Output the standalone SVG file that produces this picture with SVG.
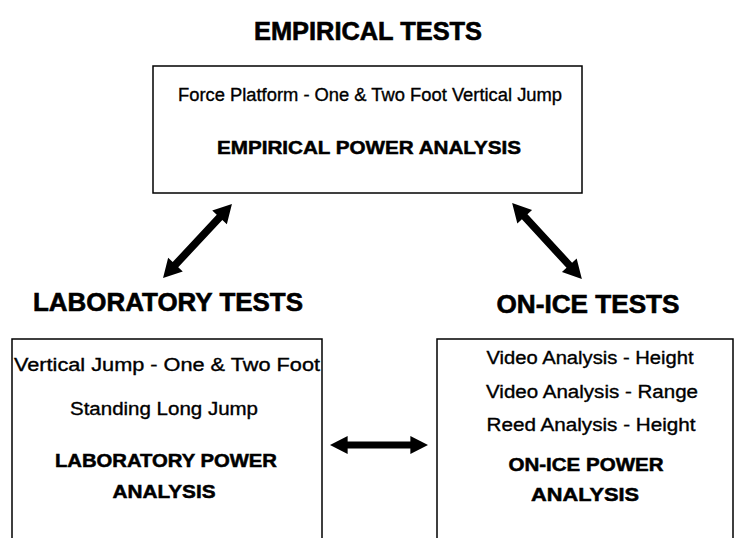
<svg xmlns="http://www.w3.org/2000/svg" xmlns:xlink="http://www.w3.org/1999/xlink" width="734" height="538" viewBox="0 0 734 538">
<style>
text{font-family:"Liberation Sans",Arial,sans-serif;fill:#000;stroke:#000;stroke-width:0.35;text-anchor:middle}
.h{font-weight:bold;font-size:25px;stroke-width:0.6}
.t{font-size:18px}
.b{font-weight:bold;font-size:18px;stroke-width:0.5}
.box{fill:#fff;stroke:#000;stroke-width:1.5}
</style>
<defs>
<path id="dbl" d="M-50,0 L-32,-10 L-32,-3.8 L32,-3.8 L32,-10 L50,0 L32,10 L32,3.8 L-32,3.8 L-32,10 Z" fill="#000"/>
</defs>
<rect width="734" height="538" fill="#fff"/>
<g id="empirical">
<text class="h" x="368" y="40" textLength="228" lengthAdjust="spacingAndGlyphs">EMPIRICAL TESTS</text>
<rect class="box" x="153" y="66" width="429" height="127"/>
<text class="t" x="370" y="101" textLength="384" lengthAdjust="spacingAndGlyphs">Force Platform - One &amp; Two Foot Vertical Jump</text>
<text class="b" x="369" y="154" textLength="304" lengthAdjust="spacingAndGlyphs">EMPIRICAL POWER ANALYSIS</text>
</g>
<g id="laboratory">
<text class="h" x="168" y="311" textLength="270" lengthAdjust="spacingAndGlyphs">LABORATORY TESTS</text>
<path class="box" d="M12,540 L12,339 L322,339 L322,540"/>
<text class="t" x="167" y="371" textLength="306" lengthAdjust="spacingAndGlyphs">Vertical Jump - One &amp; Two Foot</text>
<text class="t" x="164" y="415" textLength="188" lengthAdjust="spacingAndGlyphs">Standing Long Jump</text>
<text class="b" x="166" y="467" textLength="222" lengthAdjust="spacingAndGlyphs">LABORATORY POWER</text>
<text class="b" x="164" y="498" textLength="103" lengthAdjust="spacingAndGlyphs">ANALYSIS</text>
</g>
<g id="onice">
<text class="h" x="588" y="313" textLength="183" lengthAdjust="spacingAndGlyphs">ON-ICE TESTS</text>
<path class="box" d="M437,540 L437,339 L733,339 L733,540"/>
<text class="t" x="590" y="364" textLength="207" lengthAdjust="spacingAndGlyphs">Video Analysis - Height</text>
<text class="t" x="592" y="398" textLength="212" lengthAdjust="spacingAndGlyphs">Video Analysis - Range</text>
<text class="t" x="591" y="431" textLength="209" lengthAdjust="spacingAndGlyphs">Reed Analysis - Height</text>
<text class="b" x="586" y="471" textLength="155" lengthAdjust="spacingAndGlyphs">ON-ICE POWER</text>
<text class="b" x="585" y="501" textLength="108" lengthAdjust="spacingAndGlyphs">ANALYSIS</text>
</g>
<g id="connectors">
<use xlink:href="#dbl" transform="translate(197.5,241) rotate(-47) scale(1.01,1)"/>
<use xlink:href="#dbl" transform="translate(547,241) rotate(47.4) scale(1.03,1)"/>
<use xlink:href="#dbl" transform="translate(379,445) scale(0.98,0.9)"/>
</g>
</svg>
